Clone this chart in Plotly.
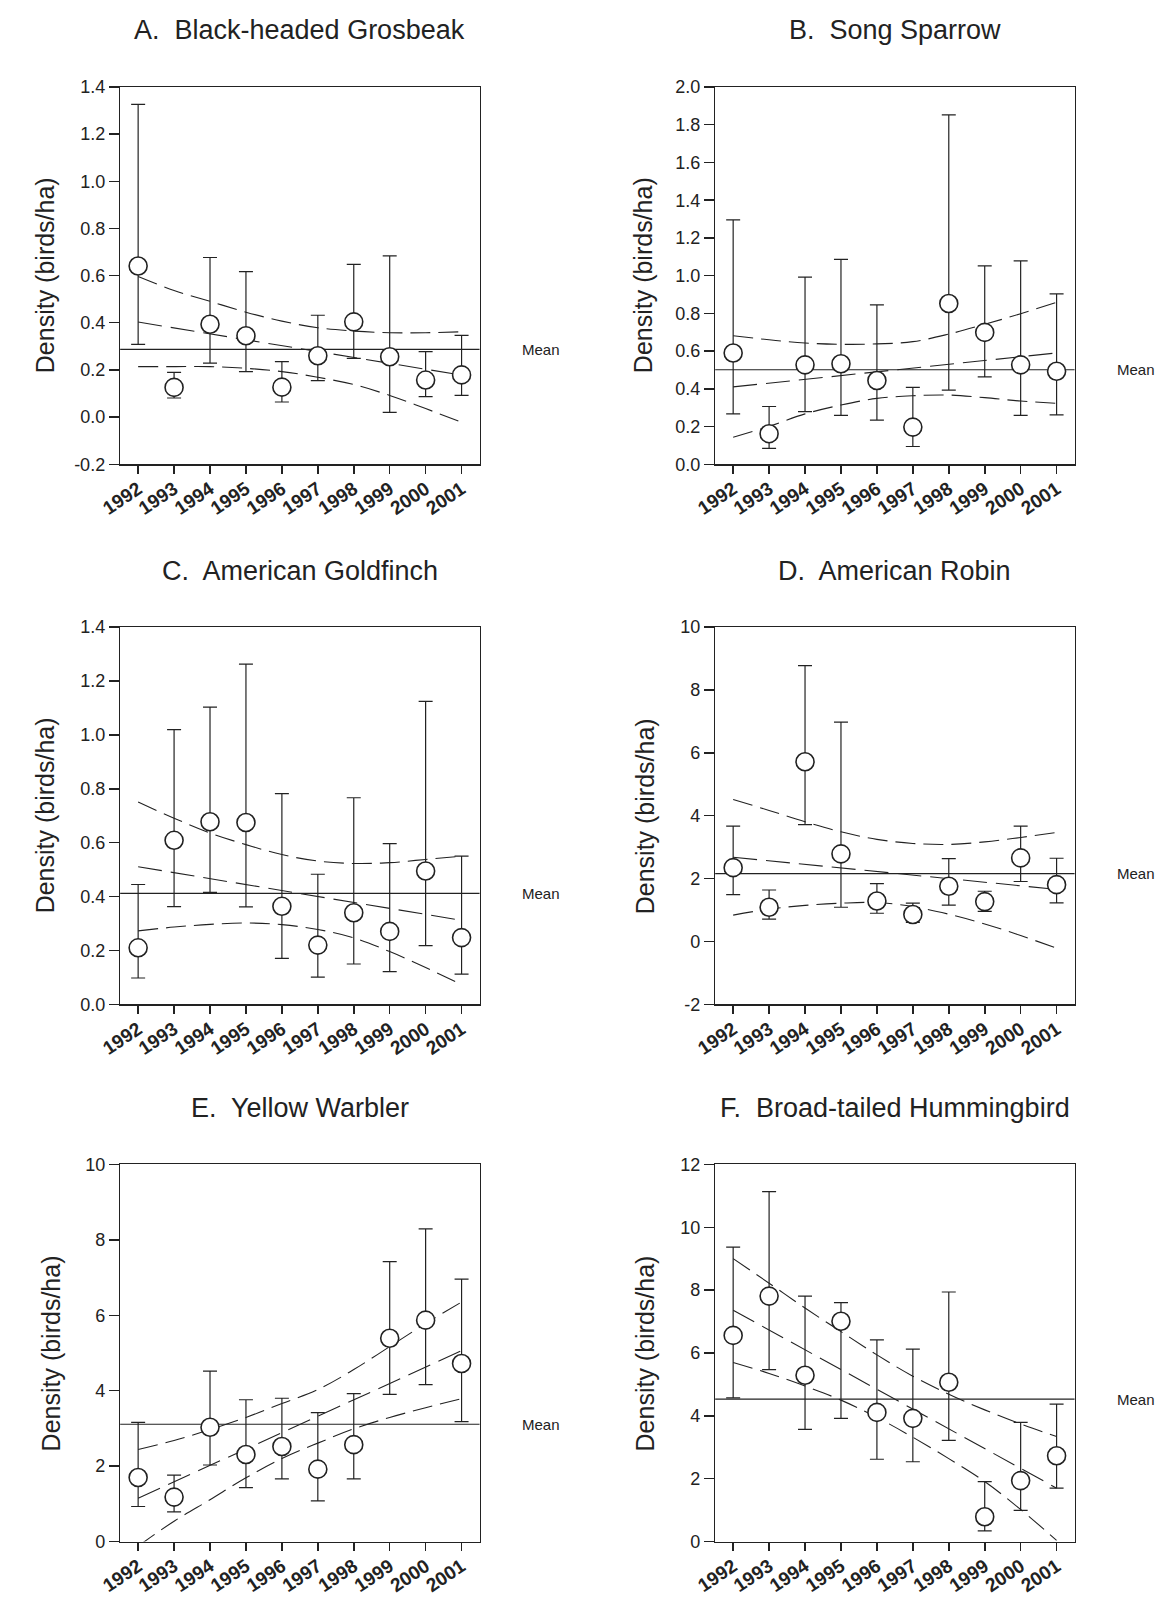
import plotly.graph_objects as go

years = [1992, 1993, 1994, 1995, 1996, 1997, 1998, 1999, 2000, 2001]
year_labels = [str(y) for y in years]
trend_years = [1992, 2001]

# A. Black-headed Grosbeak
a_density = [0.641, 0.126, 0.394, 0.345, 0.127, 0.260, 0.404, 0.256, 0.157, 0.179]
a_upper = [1.326, 0.190, 0.677, 0.617, 0.235, 0.432, 0.648, 0.684, 0.278, 0.347]
a_lower = [0.308, 0.081, 0.229, 0.193, 0.064, 0.155, 0.249, 0.020, 0.087, 0.092]
a_mean = 0.287
a_trend = [0.403, 0.178]
a_band_hi = [0.596, 0.537, 0.491, 0.445, 0.407, 0.379, 0.365, 0.358, 0.358, 0.362]
a_band_lo = [0.214, 0.214, 0.214, 0.207, 0.193, 0.169, 0.138, 0.092, 0.036, -0.022]
a_yticks = [-0.2, 0.0, 0.2, 0.4, 0.6, 0.8, 1.0, 1.2, 1.4]

# B. Song Sparrow
b_density = [0.590, 0.162, 0.527, 0.533, 0.444, 0.197, 0.852, 0.699, 0.527, 0.493]
b_upper = [1.296, 0.306, 0.992, 1.086, 0.845, 0.407, 1.852, 1.052, 1.078, 0.903]
b_lower = [0.267, 0.084, 0.279, 0.259, 0.234, 0.094, 0.393, 0.463, 0.259, 0.262]
b_mean = 0.501
b_trend = [0.410, 0.590]
b_band_hi = [0.681, 0.660, 0.643, 0.636, 0.638, 0.650, 0.690, 0.742, 0.798, 0.859]
b_band_lo = [0.143, 0.201, 0.267, 0.314, 0.349, 0.363, 0.367, 0.353, 0.335, 0.323]
b_yticks = [0.0, 0.2, 0.4, 0.6, 0.8, 1.0, 1.2, 1.4, 1.6, 1.8, 2.0]

# C. American Goldfinch
c_density = [0.210, 0.609, 0.678, 0.675, 0.364, 0.220, 0.340, 0.271, 0.495, 0.248]
c_upper = [0.445, 1.020, 1.103, 1.263, 0.782, 0.483, 0.767, 0.597, 1.125, 0.550]
c_lower = [0.098, 0.363, 0.416, 0.362, 0.171, 0.101, 0.150, 0.122, 0.218, 0.112]
c_mean = 0.412
c_trend = [0.511, 0.312]
c_band_hi = [0.751, 0.691, 0.636, 0.593, 0.556, 0.532, 0.523, 0.526, 0.538, 0.550]
c_band_lo = [0.273, 0.287, 0.297, 0.302, 0.296, 0.278, 0.247, 0.196, 0.137, 0.073]
c_yticks = [0.0, 0.2, 0.4, 0.6, 0.8, 1.0, 1.2, 1.4]

# D. American Robin
d_density = [2.35, 1.09, 5.72, 2.79, 1.29, 0.86, 1.76, 1.27, 2.66, 1.81]
d_upper = [3.67, 1.64, 8.78, 6.98, 1.84, 1.22, 2.64, 1.60, 3.67, 2.65]
d_lower = [1.49, 0.71, 3.72, 1.09, 0.90, 0.61, 1.16, 0.96, 1.91, 1.23]
d_mean = 2.16
d_trend = [2.68, 1.66]
d_band_hi = [4.52, 4.17, 3.81, 3.49, 3.25, 3.12, 3.09, 3.17, 3.31, 3.47]
d_band_lo = [0.84, 1.03, 1.15, 1.22, 1.24, 1.11, 0.87, 0.56, 0.19, -0.21]
d_yticks = [-2, 0, 2, 4, 6, 8, 10]

# E. Yellow Warbler
e_density = [1.70, 1.18, 3.03, 2.31, 2.52, 1.92, 2.57, 5.39, 5.87, 4.72]
e_upper = [3.16, 1.76, 4.52, 3.76, 3.80, 3.42, 3.92, 7.42, 8.29, 6.96]
e_lower = [0.93, 0.79, 2.03, 1.43, 1.66, 1.08, 1.66, 3.90, 4.16, 3.18]
e_mean = 3.11
e_trend = [1.15, 5.06]
e_band_hi = [2.44, 2.68, 2.97, 3.29, 3.66, 4.03, 4.56, 5.17, 5.78, 6.35]
e_band_lo = [-0.12, 0.54, 1.11, 1.69, 2.20, 2.61, 2.99, 3.29, 3.55, 3.79]
e_yticks = [0, 2, 4, 6, 8, 10]

# F. Broad-tailed Hummingbird
f_density = [6.56, 7.81, 5.29, 7.01, 4.11, 3.92, 5.07, 0.79, 1.94, 2.73]
f_upper = [9.37, 11.13, 7.81, 7.60, 6.42, 6.12, 7.94, 1.91, 3.79, 4.37]
f_lower = [4.57, 5.47, 3.57, 3.92, 2.62, 2.54, 3.22, 0.34, 0.99, 1.70]
f_mean = 4.53
f_trend = [7.36, 1.70]
f_band_hi = [9.00, 8.22, 7.43, 6.68, 5.94, 5.26, 4.69, 4.19, 3.74, 3.34]
f_band_lo = [5.70, 5.35, 4.95, 4.50, 3.95, 3.32, 2.64, 1.91, 1.02, 0.04]
f_yticks = [0, 2, 4, 6, 8, 10, 12]

titles = ["A.  Black-headed Grosbeak", "B.  Song Sparrow", "C.  American Goldfinch",
          "D.  American Robin", "E.  Yellow Warbler", "F.  Broad-tailed Hummingbird"]
y_ticks = [a_yticks, b_yticks, c_yticks, d_yticks, e_yticks, f_yticks]
y_decimals = [1, 1, 1, 0, 0, 0]

panels = [
    (a_density, a_upper, a_lower, a_mean, a_trend, a_band_hi, a_band_lo),
    (b_density, b_upper, b_lower, b_mean, b_trend, b_band_hi, b_band_lo),
    (c_density, c_upper, c_lower, c_mean, c_trend, c_band_hi, c_band_lo),
    (d_density, d_upper, d_lower, d_mean, d_trend, d_band_hi, d_band_lo),
    (e_density, e_upper, e_lower, e_mean, e_trend, e_band_hi, e_band_lo),
    (f_density, f_upper, f_lower, f_mean, f_trend, f_band_hi, f_band_lo),
]

W, H = 1159, 1598
col_x = [(101, 467), (707, 1073)]
row_y = [(78, 460), (625, 1007), (1169, 1551)]
title_y = [20, 568, 1112]
ytitle_x = [[24, 633], [24, 635], [31, 635]]
ink = "#222222"
FONT = "Liberation Sans, Arial, Helvetica, sans-serif"

fig = go.Figure()
annotations = []
shapes = []
layout_axes = {}

for i, (dens, up, lo, mean, trend, bhi, blo) in enumerate(panels):
    k = i + 1
    r, c = divmod(i, 2)
    x0, x1 = col_x[c]
    y0, y1 = row_y[r]
    xa = "x" if k == 1 else f"x{k}"
    ya = "y" if k == 1 else f"y{k}"

    band_style = dict(color=ink, width=1.1, dash="20px,8px", shape="spline", smoothing=1.0)
    fig.add_trace(go.Scatter(x=years, y=bhi, mode="lines", line=band_style,
                             xaxis=xa, yaxis=ya, showlegend=False, hoverinfo="skip"))
    fig.add_trace(go.Scatter(x=years, y=blo, mode="lines", line=band_style,
                             xaxis=xa, yaxis=ya, showlegend=False, hoverinfo="skip"))
    fig.add_trace(go.Scatter(x=trend_years, y=trend, mode="lines",
                             line=dict(color=ink, width=1.1, dash="24px,9px"),
                             xaxis=xa, yaxis=ya, showlegend=False, hoverinfo="skip"))
    err_plus = [u - v for u, v in zip(up, dens)]
    err_minus = [v - l for v, l in zip(dens, lo)]
    fig.add_trace(go.Scatter(
        x=years, y=dens, mode="markers",
        marker=dict(symbol="circle", size=18, color="white", line=dict(color=ink, width=1.6)),
        error_y=dict(type="data", symmetric=False, array=err_plus, arrayminus=err_minus,
                     color=ink, thickness=1.2, width=7),
        xaxis=xa, yaxis=ya, showlegend=False))

    shapes.append(dict(type="line", xref=f"{xa} domain", yref=ya, x0=0, x1=1,
                       y0=mean, y1=mean, line=dict(color=ink, width=1.2), layer="below"))

    ticks = y_ticks[i]
    tick_text = [f"{v:.{y_decimals[i]}f}" for v in ticks]

    xkey = "xaxis" if k == 1 else f"xaxis{k}"
    ykey = "yaxis" if k == 1 else f"yaxis{k}"
    layout_axes[xkey] = dict(
        domain=[x0 / W, x1 / W], anchor=ya, range=[1991.5, 2001.5],
        tickmode="array", tickvals=years, ticktext=year_labels, tickangle=-34,
        tickfont=dict(family=FONT, size=19, color=ink, weight="bold"),
        ticks="outside", ticklen=8, tickwidth=1.6, tickcolor=ink,
        ticklabelstandoff=-3,
        showline=True, linecolor=ink, linewidth=1.4, mirror=True,
        showgrid=False, zeroline=False, fixedrange=True)
    layout_axes[ykey] = dict(
        domain=[1 - y1 / H, 1 - y0 / H], anchor=xa, range=[ticks[0], ticks[-1]],
        tickmode="array", tickvals=ticks, ticktext=tick_text,
        tickfont=dict(family=FONT, size=18, color=ink),
        ticks="outside", ticklen=10, tickwidth=1.4, tickcolor=ink,
        showline=True, linecolor=ink, linewidth=1.4, mirror=True,
        showgrid=False, zeroline=False, fixedrange=True)

    annotations.append(dict(text=titles[i], xref="paper", yref="paper",
                            x=(x0 + x1) / 2 / W, y=1 - title_y[r] / H,
                            xanchor="center", yanchor="middle", showarrow=False,
                            font=dict(family=FONT, size=27, color=ink)))
    annotations.append(dict(text="Density (birds/ha)", xref="paper", yref="paper",
                            x=ytitle_x[r][c] / W, y=1 - (y0 + y1) / 2 / H, textangle=-90,
                            xanchor="center", yanchor="middle", showarrow=False,
                            font=dict(family=FONT, size=25, color=ink)))
    annotations.append(dict(text="Mean", xref="paper", yref=ya,
                            x=(x1 + 41) / W, y=mean, xanchor="left", yanchor="middle",
                            showarrow=False, font=dict(family=FONT, size=15, color=ink)))

fig.update_layout(
    width=W, height=H, margin=dict(l=0, r=0, t=0, b=0),
    paper_bgcolor="white", plot_bgcolor="white",
    font=dict(family=FONT, color=ink),
    annotations=annotations, shapes=shapes, showlegend=False,
    **layout_axes)

fig.write_html(
    "out.html",
    config={"displayModeBar": False, "staticPlot": True},
    post_script="document.body.style.margin='0';document.body.style.overflow='hidden';",
)
